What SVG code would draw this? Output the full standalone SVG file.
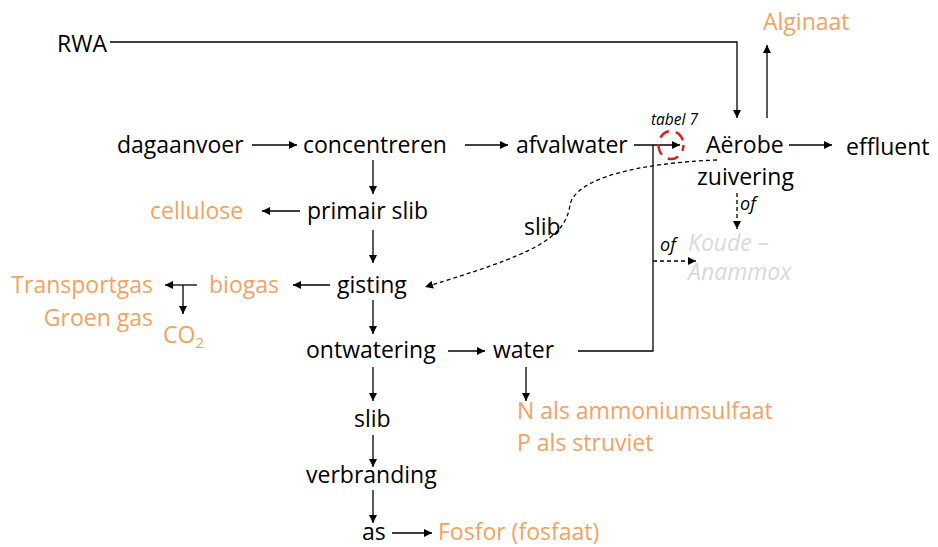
<svg xmlns="http://www.w3.org/2000/svg" width="938" height="547" viewBox="0 0 938 547">
<style>
text{font-family:"Open Sans","Noto Sans",sans-serif;font-size:23px;fill:#000}
.o{fill:#f3a262}
.g{fill:#d9d9d9;font-style:italic}
.i{font-style:italic}
.s{font-size:15.5px}
.f{font-size:18px}
.ln{fill:none;stroke:#000;stroke-width:1.3}
.d{stroke-dasharray:4 3}
</style>
<defs>
<marker id="ah" viewBox="0 0 10 10" refX="10" refY="5" markerWidth="8" markerHeight="8" markerUnits="userSpaceOnUse" orient="auto"><path d="M0,0 L10,5 L0,10 z" fill="#000"/></marker>
</defs>
<rect width="938" height="547" fill="#fff"/>
<g id="connectors">
<path class="ln" d="M110,42 H737 V118" marker-end="url(#ah)"/>
<path class="ln" d="M767,118 V45" marker-end="url(#ah)"/>
<path class="ln" d="M252,145 H297" marker-end="url(#ah)"/>
<path class="ln" d="M465,145 H508" marker-end="url(#ah)"/>
<path class="ln" d="M634,145 H680" marker-end="url(#ah)"/>
<path class="ln" d="M789,145 H832" marker-end="url(#ah)"/>
<path class="ln" d="M373,160 V194" marker-end="url(#ah)"/>
<path class="ln" d="M300,211 H262" marker-end="url(#ah)"/>
<path class="ln" d="M373,230 V263" marker-end="url(#ah)"/>
<path class="ln" d="M330,285 H293" marker-end="url(#ah)"/>
<path class="ln" d="M197,285 H165" marker-end="url(#ah)"/>
<path class="ln" d="M183,285 V314" marker-end="url(#ah)"/>
<path class="ln" d="M373,300 V334" marker-end="url(#ah)"/>
<path class="ln" d="M448,351 H485" marker-end="url(#ah)"/>
<path class="ln" d="M578,351 H653 V145"/>
<path class="ln d" d="M653,261 H696" marker-end="url(#ah)"/>
<path class="ln d" d="M737,193 V229" marker-end="url(#ah)"/>
<path class="ln" d="M526,367 V401" marker-end="url(#ah)"/>
<path class="ln" d="M373,367 V401" marker-end="url(#ah)"/>
<path class="ln" d="M373,435 V467" marker-end="url(#ah)"/>
<path class="ln" d="M373,490 V523" marker-end="url(#ah)"/>
<path class="ln" d="M392,533 H432" marker-end="url(#ah)"/>
<path class="ln d" d="M717,160 C640,163 575,178 570,205 C565,240 530,255 425,287" marker-end="url(#ah)"/>
<ellipse cx="671" cy="145" rx="12.5" ry="14" fill="none" stroke="#e02020" stroke-width="2.5" stroke-dasharray="11 7" stroke-dashoffset="5"/>
</g>
<g id="rwa"><text x="57" y="52">RWA</text></g>
<g id="alginaat"><text class="o" x="763" y="30">Alginaat</text></g>
<g id="dagaanvoer"><text x="117" y="153">dagaanvoer</text></g>
<g id="concentreren"><text x="303" y="153">concentreren</text></g>
<g id="afvalwater"><text x="516" y="153">afvalwater</text></g>
<g id="tabel7"><text class="i s" x="651" y="125">tabel 7</text></g>
<g id="aerobe"><text x="706" y="153">Aërobe</text><text x="697" y="185">zuivering</text></g>
<g id="effluent"><text x="846" y="155">effluent</text></g>
<g id="cellulose"><text class="o" x="150" y="219">cellulose</text></g>
<g id="primairslib"><text x="307" y="219">primair slib</text></g>
<g id="slib1"><text x="524" y="235">slib</text></g>
<g id="of1"><text class="i f" x="740" y="210">of</text></g>
<g id="of2"><text class="i f" x="660" y="251">of</text></g>
<g id="anammox"><text class="g" x="688" y="251">Koude –</text><text class="g" x="688" y="280">Anammox</text></g>
<g id="transportgas"><text class="o" x="153" y="293" text-anchor="end">Transportgas</text><text class="o" x="153" y="326" text-anchor="end">Groen gas</text></g>
<g id="co2"><text class="o" x="163" y="343">CO<tspan font-size="15" dy="5">2</tspan></text></g>
<g id="biogas"><text class="o" x="209" y="293">biogas</text></g>
<g id="gisting"><text x="337" y="293">gisting</text></g>
<g id="ontwatering"><text x="306" y="358">ontwatering</text></g>
<g id="water"><text x="493" y="358">water</text></g>
<g id="npsalts"><text class="o" x="517" y="419">N als ammoniumsulfaat</text><text class="o" x="517" y="451">P als struviet</text></g>
<g id="slib2"><text x="354" y="427">slib</text></g>
<g id="verbranding"><text x="306" y="483">verbranding</text></g>
<g id="as"><text x="362" y="540">as</text></g>
<g id="fosfor"><text class="o" x="438" y="540">Fosfor (fosfaat)</text></g>
</svg>
